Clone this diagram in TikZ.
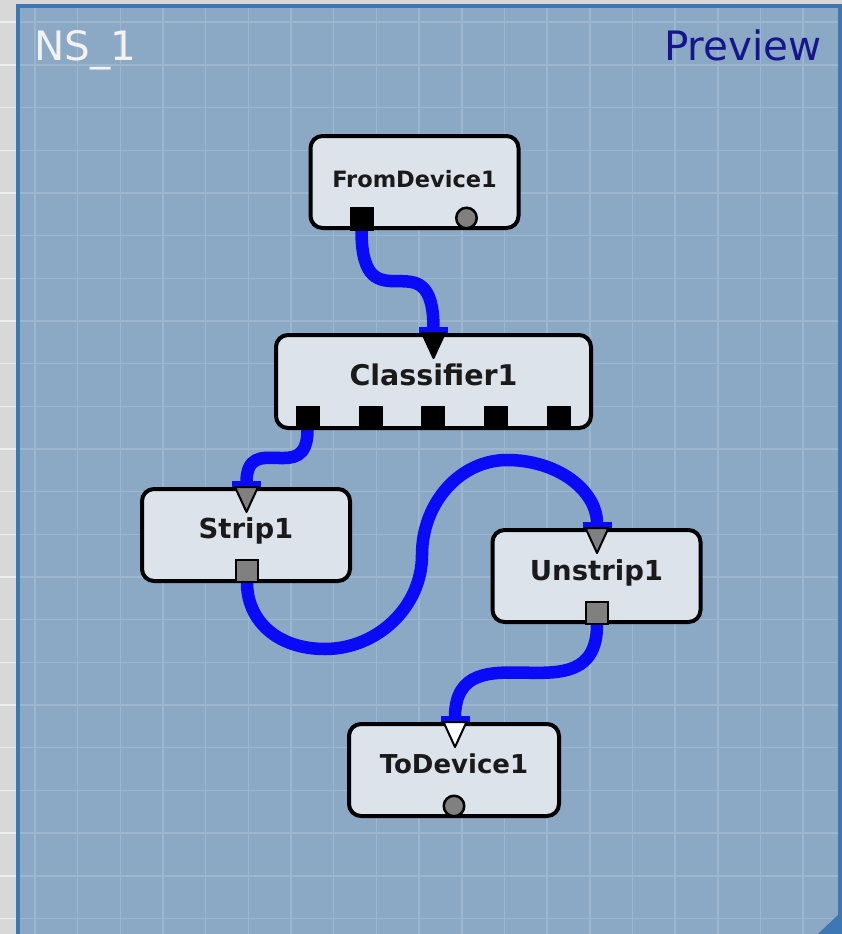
\documentclass[tikz,border=0pt]{standalone}
\usepackage{fontspec}
\setmainfont{DejaVu Sans}
\usetikzlibrary{arrows.meta}
\definecolor{bggray}{RGB}{216,216,216}
\definecolor{bggrid}{RGB}{238,238,238}
\definecolor{panelfill}{RGB}{139,168,196}
\definecolor{panelgrid}{RGB}{156,182,207}
\definecolor{panelborder}{RGB}{62,120,180}
\definecolor{boxfill}{RGB}{220,227,235}
\definecolor{wireblue}{RGB}{10,10,248}
\definecolor{navy}{RGB}{22,22,140}
\definecolor{nswhite}{RGB}{242,242,242}
\definecolor{portgray}{RGB}{128,128,128}
\definecolor{labeltext}{RGB}{26,26,26}
\pgfdeclarelayer{bglayer}
\pgfdeclarelayer{wirelayer}
\pgfsetlayers{bglayer,wirelayer,main}
\begin{document}
\begin{tikzpicture}[x=1pt,y=-1pt,
  box/.style={draw=black, line width=4pt, fill=boxfill, rounded corners=12pt,
    minimum width=208pt, minimum height=92pt, inner sep=0pt, text=labeltext},
  outsq/.style={rectangle, draw=black, line width=2pt, minimum size=22pt, inner sep=0pt},
  outcirc/.style={circle, draw=black, fill=portgray, line width=2.5pt, minimum size=20.5pt, inner sep=0pt},
  wire/.style={draw=wireblue, line width=12.5pt, line cap=butt, -{Rectangle[length=6pt,width=29pt]}},
  intri/.style={line width=2pt, line join=round, draw=black},
  gridA/.style={draw=bggrid, line width=1.6pt},
  gridB/.style={draw=panelgrid, line width=1.6pt},
  titletext/.style={inner sep=0pt, font=\fontsize{40.5}{40}\selectfont}
]
\useasboundingbox (0,0) rectangle (842,934);
\begin{pgfonlayer}{bglayer}
% background
\fill[bggray] (0,0) rectangle (842,934);
\foreach \k in {0,...,21} \draw[gridA] (0,{22.3+\k*42.67}) -- (842,{22.3+\k*42.67});
% panel
\fill[panelfill] (18,6) rectangle (840,940);
\begin{scope}
  \clip (18,6) rectangle (840,940);
  \foreach \k in {0,...,21} \draw[gridB] (0,{22.3+\k*42.67}) -- (842,{22.3+\k*42.67});
  \foreach \k in {0,...,19} \draw[gridB] ({35+\k*42.67},0) -- ({35+\k*42.67},934);
\end{scope}
\draw[panelborder, line width=4pt] (18,940) -- (18,6) -- (840,6) -- (840,940);
\fill[panelborder] (818,934) -- (842,934) -- (842,911) -- cycle;
\end{pgfonlayer}

% titles
\node[titletext, text=nswhite, anchor=base west] (ns) at (34,60) {NS\_1};
\node[titletext, text=navy, anchor=base east] (preview) at (822,60) {Preview};

% boxes
\node[box, font=\bfseries\fontsize{22.5}{24}\selectfont, text height=16.4pt, text depth=6pt] (fd) at (414.5,182) {FromDevice1};
\node[box, minimum width=315pt, minimum height=93pt, font=\bfseries\fontsize{28.5}{30}\selectfont, text height=20.8pt, text depth=13pt] (cl) at (433.5,381.5) {Classifier1};
\node[box, font=\bfseries\fontsize{27.5}{30}\selectfont, text height=20pt, text depth=13pt] (st) at (246,535) {Strip1};
\node[box, font=\bfseries\fontsize{27.5}{30}\selectfont, text height=20pt, text depth=11pt] (un) at (596.5,576) {Unstrip1};
\node[box, minimum width=210pt, font=\bfseries\fontsize{26}{28}\selectfont, text height=19pt, text depth=12pt] (td) at (454,770) {ToDevice1};

% output ports
\node[outsq, fill=black] (fd-out) at (361.5,218.5) {};
\node[outcirc] (fd-circ) at (466.5,218) {};
\node[outsq, fill=black] (cl-o1) at (307.5,418) {};
\node[outsq, fill=black] (cl-o2) at (370.5,418) {};
\node[outsq, fill=black] (cl-o3) at (432.5,418) {};
\node[outsq, fill=black] (cl-o4) at (495.5,418) {};
\node[outsq, fill=black] (cl-o5) at (559,418) {};
\node[outsq, fill=portgray] (st-out) at (247,570.5) {};
\node[outsq, fill=portgray] (un-out) at (597,612.5) {};
\node[outcirc] (td-circ) at (454,806) {};

% input ports
\coordinate (cl-in) at (433.5,333);
\coordinate (st-in) at (246.5,487);
\coordinate (un-in) at (597,528);
\coordinate (td-in) at (455,722);
\foreach \c/\f in {cl-in/black, st-in/portgray, un-in/portgray, td-in/white}
  \draw[intri, fill=\f] ([xshift=-11.5pt]\c) -- ([xshift=11.5pt]\c) -- ([yshift=-25pt]\c) -- cycle;

% wires
\begin{pgfonlayer}{wirelayer}
\draw[wire] (fd-out.south) .. controls +(0,100) and +(0,-100) .. (cl-in);
\draw[wire] (cl-o1.south) .. controls +(0,57) and +(0,-57) .. (st-in);
\draw[wire] (st-out.south) .. controls +(0,38) and +(-48,0) .. (325,649)
  .. controls +(52,0) and +(0,52) .. (422,555)
  .. controls +(0,-52) and +(-47,0) .. (507,460)
  .. controls +(50,0) and +(0,-38) .. (un-in);
\draw[wire] (un-out.south) .. controls +(0,98) and +(0,-98) .. (td-in);
\end{pgfonlayer}
\end{tikzpicture}
\end{document}
